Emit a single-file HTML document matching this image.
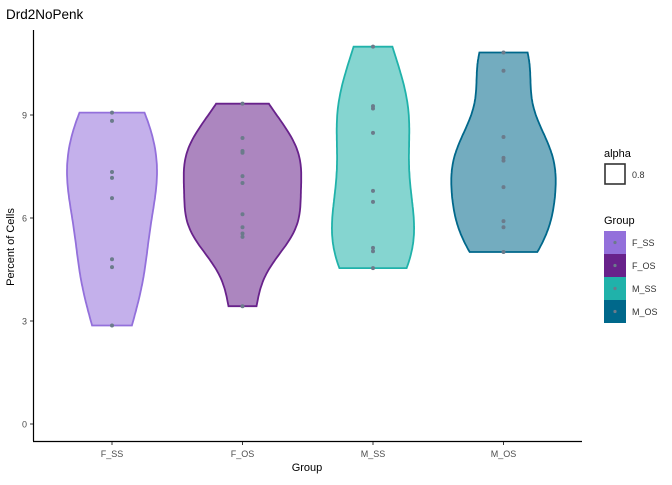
<!DOCTYPE html>
<html><head><meta charset="utf-8"><style>
body{margin:0;background:#fff;font-family:"Liberation Sans",Arial,sans-serif}
svg text{font-family:"Liberation Sans",Arial,sans-serif}
</style></head><body>
<svg id="chart" width="672" height="480" xmlns="http://www.w3.org/2000/svg">
<text x="6" y="19" font-size="13.5" fill="#000">Drd2NoPenk</text>
<g id="plot"></g>
<line x1="33.5" y1="30" x2="33.5" y2="441" stroke="#000" stroke-width="1.2"/>
<line x1="33" y1="441.5" x2="582" y2="441.5" stroke="#000" stroke-width="1.2"/>
<text x="14" y="247" font-size="11" text-anchor="middle" transform="rotate(-90 14 247)">Percent of Cells</text>
<text x="307" y="471" font-size="11" text-anchor="middle">Group</text>
<g>
<text x="604" y="157" font-size="11">alpha</text>
<rect x="605" y="164" width="20" height="20" fill="none" stroke="#333" stroke-width="1.6"/>
<text x="632" y="178" font-size="9" fill="#333">0.8</text>
</g>
<g id="legend">
<text x="604" y="224" font-size="11">Group</text>
</g>
</svg>
<script>
const categories=["F_SS","F_OS","M_SS","M_OS"];
const colors=["#9370DB","#68228B","#20B2AA","#00688B"];
const vFSS=[9.07,8.83,7.34,7.17,6.58,4.80,4.57,2.87];
const vFOS=[9.33,8.33,7.95,7.90,7.22,7.02,6.11,5.73,5.55,5.45,3.43];
const vMSS=[10.99,9.26,9.19,8.48,6.79,6.47,5.13,5.03,4.54];
const vMOS=[10.82,10.29,8.36,7.75,7.67,6.90,5.91,5.73,5.01];
const yTicks=[0,3,6,9];
const series=[vFSS,vFOS,vMSS,vMOS];
const NS="http://www.w3.org/2000/svg";
const plot=document.getElementById('plot');
const svg=document.getElementById('chart');
function yS(v){return 424-v*(424-115)/9;}
function xS(i){return 112+i*130.5;}
function mk(t,a,p){const e=document.createElementNS(NS,t);for(const k in a)e.setAttribute(k,a[k]);(p||plot).appendChild(e);return e;}
yTicks.forEach(t=>{
 const l=mk('line',{x1:30,x2:33,y1:yS(t),y2:yS(t),stroke:'#333'},svg);
 
 
 const tx=mk('text',{x:27,y:yS(t)+3.5,'font-size':9,'text-anchor':'end',fill:'#4d4d4d'},svg);tx.textContent=t;
 
 
});
function sd(a){const m=a.reduce((s,x)=>s+x,0)/a.length;return Math.sqrt(a.reduce((s,x)=>s+(x-m)**2,0)/(a.length-1));}
function iqr(a){const s=[...a].sort((x,y)=>x-y);const q=p=>{const h=(s.length-1)*p,lo=Math.floor(h);return s[lo]+(s[Math.min(lo+1,s.length-1)]-s[lo])*(h-lo);};return q(.75)-q(.25);}
function kde(a){const bw=0.9*Math.min(sd(a),iqr(a)/1.34)*Math.pow(a.length,-0.2);
 const lo=Math.min(...a),hi=Math.max(...a);const pts=[];
 for(let k=0;k<=100;k++){const y=lo+(hi-lo)*k/100;let d=0;a.forEach(x=>{d+=Math.exp(-0.5*((y-x)/bw)**2);});d/=a.length*bw*Math.sqrt(2*Math.PI);pts.push([y,d]);}
 return pts;}
const dens=series.map(kde);
const gmax=Math.max(...dens.map(p=>Math.max(...p.map(q=>q[1]))));
dens.forEach((pts,i)=>{
 const cx=xS(i),s=0.45*130.5/gmax;
 let d='';pts.forEach((p,k)=>{d+=(k?'L':'M')+(cx-p[1]*s).toFixed(1)+','+yS(p[0]).toFixed(1);});
 for(let k=pts.length-1;k>=0;k--){d+='L'+(cx+pts[k][1]*s).toFixed(1)+','+yS(pts[k][0]).toFixed(1);}
 d+='Z';
 const v=mk('path',{d:d,fill:colors[i],'fill-opacity':0.55,stroke:colors[i],'stroke-width':1.8});
 
 
 series[i].forEach(val=>{
  const c=mk('circle',{cx:cx,cy:yS(val),r:2,fill:'#6b7b8b'});
  
  
 });
 const tk=mk('line',{x1:cx,x2:cx,y1:442,y2:445,stroke:'#333'},svg);
 
 
 const tl=mk('text',{x:cx,y:457,'font-size':9,'text-anchor':'middle',fill:'#4d4d4d'},svg);tl.textContent=categories[i];
 
 
 const lg=document.getElementById('legend');
 const r=mk('rect',{x:604,y:231+i*23,width:22,height:23,fill:colors[i]},lg);
 
 
 mk('circle',{cx:615,cy:242.5+i*23,r:1.6,fill:'#6b7b8b'},lg);
 const lt=mk('text',{x:632,y:246+i*23,'font-size':9,fill:'#333'},lg);lt.textContent=categories[i];
 
 
});
</script>
</body></html>
